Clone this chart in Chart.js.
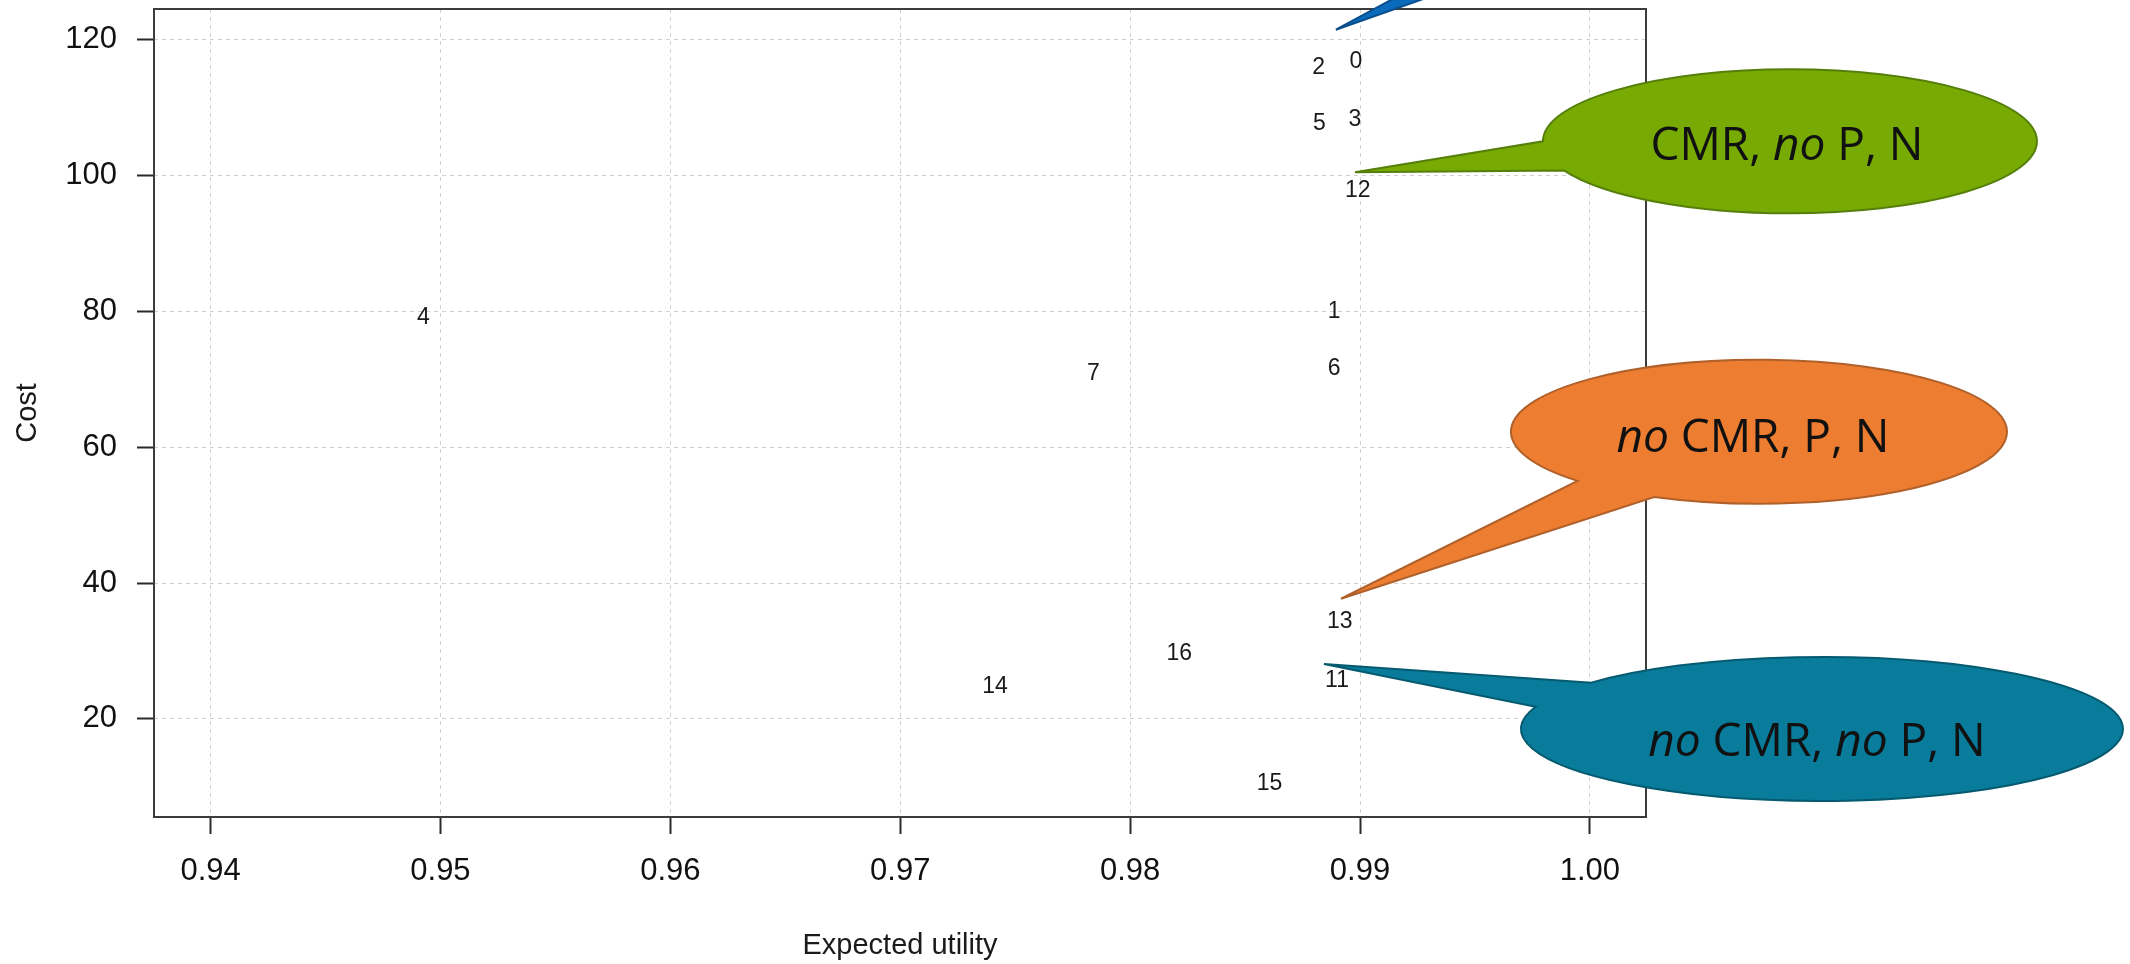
<!DOCTYPE html>
<html>
<head>
<meta charset="utf-8">
<script src="https://cdn.jsdelivr.net/npm/chart.js@4.4.1/dist/chart.umd.min.js"></script>
<style>
  html, body { margin: 0; padding: 0; background: #fff; }
  canvas { display: block; }
</style>
</head>
<body>
<canvas id="chart" width="2130" height="964"></canvas>
<script>
// one text label per policy, plotted at (expected utility, cost)
const pointLabels = ['0', '1', '2', '3', '4', '5', '6', '7', '11', '12', '13', '14', '15', '16'];
const expectedUtility = [0.98982, 0.98888, 0.98820, 0.98978, 0.94926, 0.98823, 0.98888, 0.97840, 0.98900, 0.98990, 0.98912, 0.97412, 0.98606, 0.98214];
const cost = [117.1, 80.3, 116.2, 108.5, 79.4, 107.9, 71.9, 71.2, 25.9, 98.1, 34.6, 25.1, 10.8, 29.9];
const xTicks = [0.94, 0.95, 0.96, 0.97, 0.98, 0.99, 1.00];
const yTicks = [20, 40, 60, 80, 100, 120];

const axisFont = '"Liberation Sans", Arial, sans-serif';
const bubbleFont = '"Open Sans", "DejaVu Sans", sans-serif';

// speech bubbles pasted over the plot; the tail tip points at a spot in data units
const callouts = [
    { tipX: 0.98895, tipY: 121.5, dx: 364, dy: -149, rx: 250, ry: 75, base: [120, 137],
      fill: '#0a6bbd', stroke: '#0a4f8c', text: null },
    { tipX: 0.98978, tipY: 100.5, dx: 435, dy: -31, rx: 247, ry: 72, base: [156, 180],
      fill: '#77ab04', stroke: '#557f0a', textDx: -3, textDy: 2,
      text: [['CMR, ', false], ['no', true], [' P, N', false]] },
    { tipX: 0.98917, tipY: 37.7, dx: 418, dy: -167, rx: 248, ry: 72, base: [115, 137],
      fill: '#ed7d31', stroke: '#b0602a', textDx: -6, textDy: 4,
      text: [['no', true], [' CMR, P, N', false]] },
    { tipX: 0.98843, tipY: 28.1, dx: 498, dy: 65, rx: 301, ry: 72, base: [198, 220],
      fill: '#087c9a', stroke: '#055a70', textDx: -5, textDy: 11,
      text: [['no', true], [' CMR, ', false], ['no', true], [' P, N', false]] }
];

const plotDecor = {
    id: 'plotDecor',
    afterDatasetsDraw(chart) {
        const { ctx, chartArea: a } = chart;
        ctx.save();
        ctx.strokeStyle = '#3c3c3c';
        ctx.lineWidth = 2;
        ctx.strokeRect(a.left, a.top, a.right - a.left, a.bottom - a.top);

        const meta = chart.getDatasetMeta(0);
        const size = 23;
        ctx.font = size + 'px ' + axisFont;
        ctx.fillStyle = '#1a1a1a';
        ctx.textAlign = 'center';
        ctx.textBaseline = 'alphabetic';
        meta.data.forEach((pt, i) => {
            ctx.fillText(pointLabels[i], pt.x, pt.y + size * 0.358);
        });
        ctx.restore();
    },
    afterDraw(chart) {
        const { ctx, scales: { x, y } } = chart;
        const rad = d => d * Math.PI / 180;
        ctx.save();
        callouts.forEach(c => {
            const tx = x.getPixelForValue(c.tipX);
            const ty = y.getPixelForValue(c.tipY);
            const cx = tx + c.dx, cy = ty + c.dy;
            const a1 = rad(c.base[0]), a2 = rad(c.base[1]);
            ctx.beginPath();
            ctx.moveTo(tx, ty);
            ctx.lineTo(cx + c.rx * Math.cos(a2), cy + c.ry * Math.sin(a2));
            ctx.ellipse(cx, cy, c.rx, c.ry, 0, a2, a1 + 2 * Math.PI, false);
            ctx.closePath();
            ctx.fillStyle = c.fill;
            ctx.fill();
            ctx.strokeStyle = c.stroke;
            ctx.lineWidth = 2;
            ctx.stroke();

            if (!c.text) return;
            const size = 46;
            const fontFor = it => (it ? 'italic ' : '') + size + 'px ' + bubbleFont;
            let total = 0;
            c.text.forEach(([s, it]) => { ctx.font = fontFor(it); total += ctx.measureText(s).width; });
            let px = cx + c.textDx - total / 2;
            const base = cy + c.textDy + size * 0.357;
            ctx.fillStyle = '#111';
            ctx.textAlign = 'left';
            ctx.textBaseline = 'alphabetic';
            c.text.forEach(([s, it]) => {
                ctx.font = fontFor(it);
                ctx.fillText(s, px, base);
                px += ctx.measureText(s).width;
            });
        });
        ctx.restore();
    }
};

const gridOpts = {
    color: '#d0d0d0',
    lineWidth: 1,
    drawTicks: true,
    tickLength: 17,
    tickColor: '#2a2a2a',
    tickWidth: 2,
    tickBorderDash: []
};

// fixed axis box sizes; drop the edge padding Chart.js reserves for labels
const fixBox = (w, h) => s => {
    if (w) s.width = w;
    if (h) s.height = h;
    s.paddingTop = 0; s.paddingBottom = 0; s.paddingLeft = 0; s.paddingRight = 0;
};

new Chart(document.getElementById('chart'), {
    type: 'scatter',
    data: {
        datasets: [{
            data: expectedUtility.map((u, i) => ({ x: u, y: cost[i] })),
            pointRadius: 0,
            pointHoverRadius: 0
        }]
    },
    options: {
        responsive: false,
        animation: false,
        layout: { padding: { top: 9, right: 484, left: 0, bottom: 0 } },
        plugins: { legend: { display: false }, tooltip: { enabled: false } },
        scales: {
            x: {
                type: 'linear',
                min: 0.93754,
                max: 1.00244,
                afterBuildTicks: s => { s.ticks = xTicks.map(v => ({ value: v })); },
                afterFit: fixBox(0, 147),
                ticks: {
                    callback: v => v.toFixed(2),
                    font: { family: axisFont, size: 31 },
                    color: '#111',
                    padding: 19,
                    maxRotation: 0,
                    autoSkip: false
                },
                grid: gridOpts,
                border: { display: false, dash: [4, 4] },
                title: {
                    display: true,
                    text: 'Expected utility',
                    font: { family: axisFont, size: 29 },
                    color: '#1a1a1a',
                    padding: { top: 0, bottom: 1 }
                }
            },
            y: {
                type: 'linear',
                min: 5.56,
                max: 124.55,
                afterBuildTicks: s => { s.ticks = yTicks.map(v => ({ value: v })); },
                afterFit: fixBox(154, 0),
                ticks: {
                    font: { family: axisFont, size: 31 },
                    color: '#111',
                    padding: 20,
                    autoSkip: false
                },
                grid: gridOpts,
                border: { display: false, dash: [4, 4] },
                title: {
                    display: true,
                    text: 'Cost',
                    font: { family: axisFont, size: 29 },
                    color: '#1a1a1a',
                    padding: { top: 11, bottom: 0 }
                }
            }
        }
    },
    plugins: [plotDecor]
});
</script>
</body>
</html>
